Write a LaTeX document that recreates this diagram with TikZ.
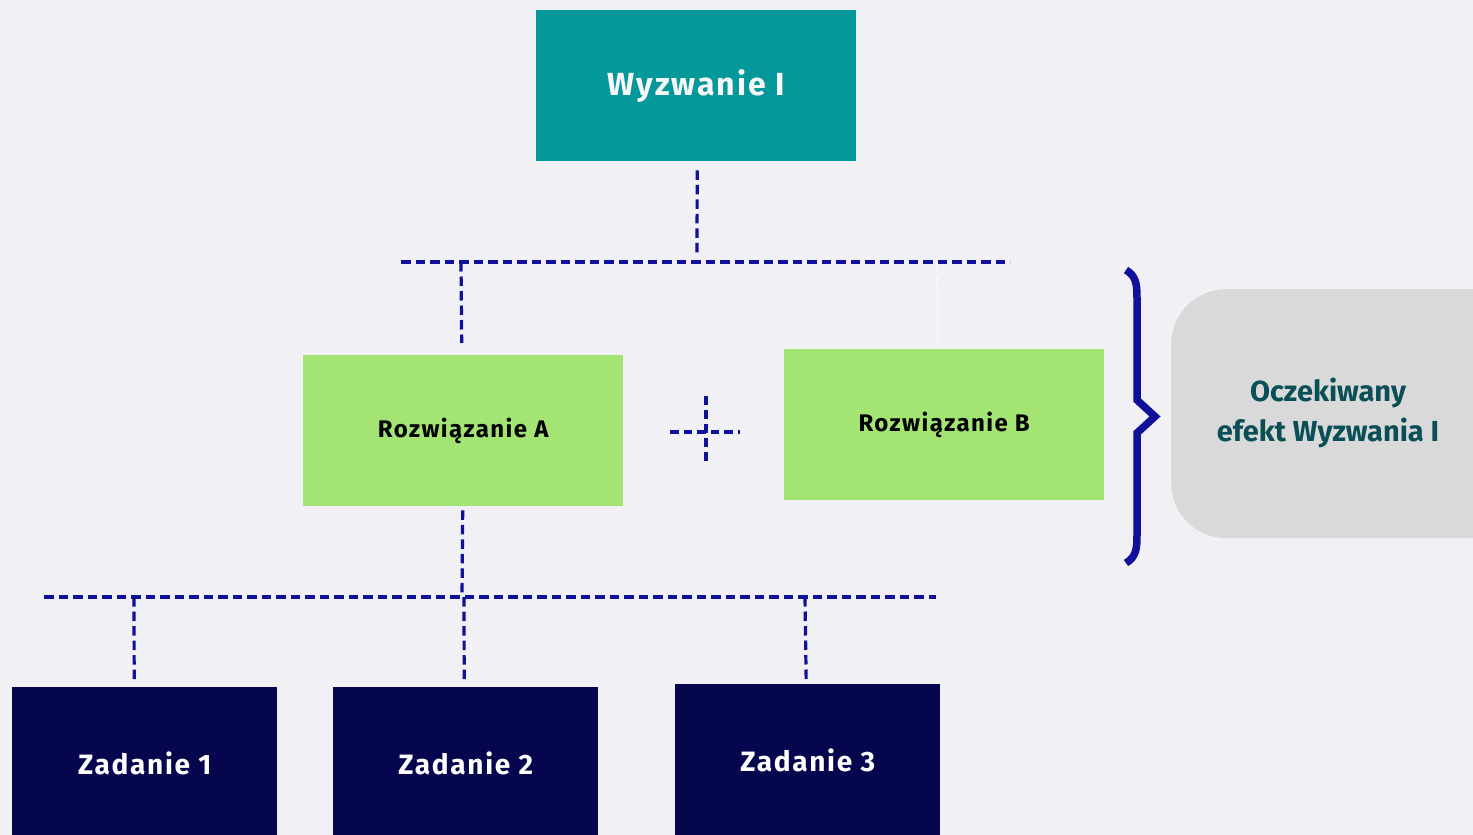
\documentclass[tikz,border=0pt]{standalone}
\usepackage{fontspec}
\setmainfont{Fira Sans}
\newfontfamily\spacedfont[LetterSpace=6]{Fira Sans}
\usetikzlibrary{calc}
\definecolor{bgc}{HTML}{F1F0F5}
\definecolor{tealc}{HTML}{05989B}
\definecolor{greenc}{HTML}{A3E472}
\definecolor{navyc}{HTML}{06064F}
\definecolor{linec}{HTML}{10109A}
\definecolor{grayc}{HTML}{D9D9D9}
\definecolor{textteal}{HTML}{0A4F55}
\tikzset{
  box/.style={rectangle, inner sep=0pt, minimum width=320pt, minimum height=151pt, anchor=north west},
  taskbox/.style={rectangle, inner sep=0pt, minimum width=265pt, minimum height=152pt, anchor=north west, fill=navyc, text=white, font=\spacedfont\bfseries\fontsize{28}{32}\selectfont},
  dashline/.style={draw=linec, line width=3.2pt, dash pattern=on 9.5pt off 5pt},
}
\begin{document}
\begin{tikzpicture}[x=1pt,y=-1pt]
\fill[bgc] (0,0) rectangle (1473,835);
\useasboundingbox (0,0) rectangle (1473,835);
% nodes
\node[box, fill=tealc, text=white!94!gray, font=\spacedfont\bfseries\fontsize{32}{36}\selectfont] (wyz) at (536,10) {Wyzwanie I};
\node[box, fill=greenc, font=\spacedfont\bfseries\fontsize{24}{28}\selectfont] (ra) at (303,355) {Rozwiązanie A};
\node[box, fill=greenc, font=\spacedfont\bfseries\fontsize{24}{28}\selectfont] (rb) at (784,349) {Rozwiązanie B};
\node[taskbox] (z1) at (12,687) {Zadanie 1};
\node[taskbox] (z2) at (333,687) {Zadanie 2};
\node[taskbox] (z3) at (675,684) {Zadanie 3};
\node[rectangle, rounded corners=55pt, fill=grayc, minimum width=360pt, minimum height=249pt, anchor=north west, inner sep=0pt] (eff) at (1171,289) {};
\node[text=textteal, font=\fontsize{29}{40}\selectfont\bfseries, align=center] (efft) at (1328,413) {Oczekiwany\\efekt Wyzwania I};
% coordinates
\coordinate (h1l) at (401,262);
\coordinate (h1r) at (1010,262);
\coordinate (h1a) at (461,262);
\coordinate (h1b) at (937,262);
\coordinate (h1w) at (697,262);
\coordinate (h2l) at (44,597);
\coordinate (h2r) at (936,597);
\coordinate (h2a) at (462,597);
\coordinate (h21) at (134,597);
\coordinate (h22) at (464,597);
\coordinate (h23) at (805,597);
% connectors
\draw[dashline] ($(wyz.south)+(1,9)$) -- ($(h1w)+(0,-6)$);
\draw[dashline] (h1l) -- (h1r);
\draw[dashline] (h1a) -- ($(ra.north)+(-1.5,-12)$);
\draw[white!60!bgc, line width=1.5pt, dash pattern=on 10pt off 5pt] (h1b) -- ($(rb.north)+(-6.5,0)$);
\draw[dashline] ($(ra.south)+(-0.5,4)$) -- (h2a);
\draw[dashline] (h2l) -- (h2r);
\draw[dashline] (h21) -- ($(z1.north)+(-10.5,-4)$);
\draw[dashline] (h22) -- ($(z2.north)+(-1.5,-7)$);
\draw[dashline] (h23) -- ($(z3.north)+(-1.5,-1)$);
% plus
\coordinate (pc) at (706,432);
\draw[dashline, dash pattern=on 8.5pt off 5pt] ($(pc)+(-36,0)$) -- ($(pc)+(34,0)$);
\draw[dashline, dash pattern=on 9pt off 5pt] ($(pc)+(0,-36)$) -- ($(pc)+(0,32)$);
% brace
\draw[linec, line width=7.5pt, line join=miter] (1126,270) .. controls (1136,276) and (1137,284) .. (1137,298) -- (1137,400) -- (1155,416.5) -- (1137,433) -- (1137,535) .. controls (1137,549) and (1136,557) .. (1126,563);
\end{tikzpicture}
\end{document}
